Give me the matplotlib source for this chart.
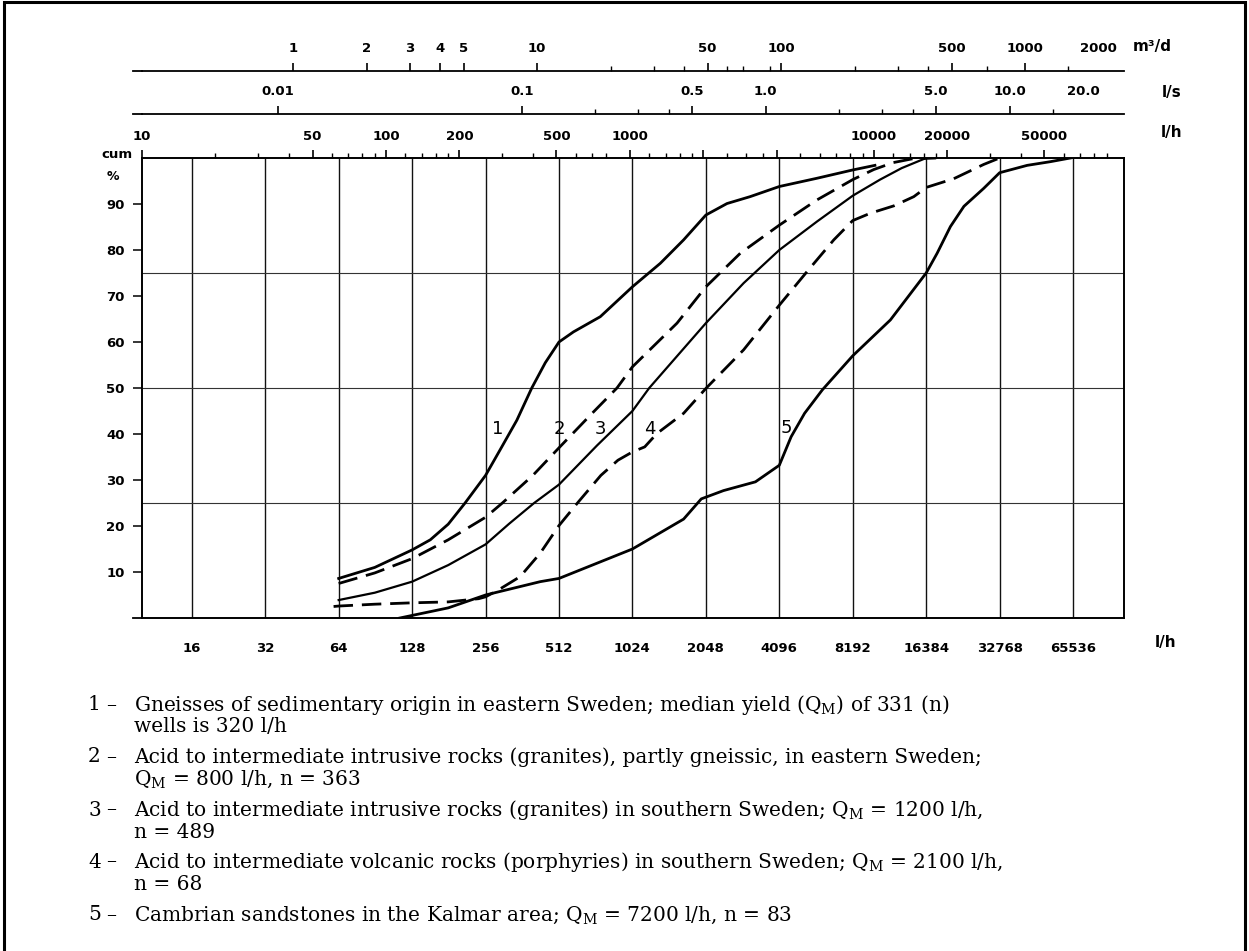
import matplotlib
matplotlib.use("Agg")
import matplotlib.pyplot as plt
from matplotlib.patches import Rectangle
from matplotlib.lines import Line2D
from matplotlib.ticker import NullFormatter, NullLocator

# ---------------- data ----------------
grid_lh = [16, 32, 64, 128, 256, 512, 1024, 2048, 4096, 8192, 16384, 32768, 65536]
grid_labels = ["16", "32", "64", "128", "256", "512", "1024", "2048", "4096",
               "8192", "16384", "32768", "65536"]
pct_ticks = [10, 20, 30, 40, 50, 60, 70, 80, 90]
pct_grid = [25, 50, 75]

# top scale: l/h
lh_major = [10, 50, 100, 200, 500, 1000, 10000, 20000, 50000]
lh_major_labels = ["10", "50", "100", "200", "500", "1000", "10000", "20000", "50000"]
lh_long = [2000, 4000]
lh_minor = [20, 30, 40, 60, 70, 80, 90, 120, 140, 160, 180, 300, 400, 600, 700, 800,
            1200, 1400, 1600, 1800, 2500, 3000, 3500, 5000, 6000, 7000, 8000, 9000,
            12000, 14000, 16000, 18000, 30000, 40000, 60000, 70000, 80000, 90000]

# top scale: l/s
ls_major = [0.01, 0.1, 0.5, 1.0, 5.0, 10.0, 20.0]
ls_labels = ["0.01", "0.1", "0.5", "1.0", "5.0", "10.0", "20.0"]
ls_minor = [0.2, 0.3, 0.4, 2, 3, 4, 15]

# top scale: m3/d
m3d_major = [1, 2, 3, 4, 5, 10, 50, 100, 500, 1000, 2000]
m3d_labels = ["1", "2", "3", "4", "5", "10", "50", "100", "500", "1000", "2000"]
m3d_minor = [20, 30, 40, 60, 70, 90, 200, 300, 400, 700, 1500]

# curves (yield in l/h, cumulative %)
x1 = [64, 90, 128, 152, 180, 211, 256, 294, 344, 396, 450, 512, 587, 756, 1024,
      1332, 1660, 2048, 2500, 3110, 4096, 5850, 8192, 10100]
y1 = [8.6, 11.0, 14.8, 17.0, 20.4, 25.0, 31.0, 36.6, 43.0, 50.0, 55.5, 60.0, 62.2,
      65.5, 72.0, 77.1, 82.2, 87.6, 90.1, 91.6, 93.8, 95.6, 97.4, 98.4]

x2 = [64, 90, 128, 180, 256, 300, 400, 512, 700, 885, 1024, 1560, 2048, 2835, 4096,
      5850, 8192, 10000, 12000, 14300, 18000]
y2 = [7.5, 9.8, 12.9, 17.0, 21.9, 25.0, 31.0, 37.0, 44.5, 50.0, 54.6, 64.1, 72.0,
      79.3, 85.4, 90.9, 95.3, 97.5, 99.0, 99.8, 100.0]

x3 = [64, 90, 128, 180, 256, 320, 405, 512, 733, 1024, 1200, 2048, 2925, 4096,
      5850, 8192, 10600, 13000, 16384]
y3 = [3.9, 5.5, 7.9, 11.5, 16.0, 20.5, 25.0, 29.0, 37.5, 45.0, 50.0, 64.1, 72.8,
      80.0, 86.2, 91.8, 95.3, 97.8, 100.0]

x4 = [61, 64, 90, 128, 180, 240, 256, 289, 355, 429, 512, 614, 760, 893, 1024, 1150,
      1290, 1660, 2048, 2925, 4096, 5320, 6850, 8192, 9680, 12080, 14580, 16384,
      21260, 28200, 32768]
y4 = [2.5, 2.6, 3.0, 3.3, 3.5, 4.2, 4.6, 6.1, 9.0, 14.1, 20.1, 25.2, 31.0, 34.3,
      36.1, 37.2, 40.1, 44.5, 49.9, 58.3, 68.0, 75.3, 82.2, 86.4, 88.0, 89.6, 91.6,
      93.6, 95.5, 98.6, 100.0]

x5 = [114, 180, 256, 429, 512, 1024, 1660, 1962, 2420, 3270, 4096, 4580, 5200, 6150,
      8192, 11690, 16384, 18170, 20600, 23400, 28200, 32768, 42500, 52900, 63900]
y5 = [0.0, 2.2, 5.0, 7.9, 8.6, 15.0, 21.5, 25.9, 27.7, 29.6, 33.2, 39.4, 44.5, 49.6,
      57.0, 64.8, 75.0, 79.3, 85.1, 89.5, 93.4, 96.8, 98.4, 99.2, 100.0]

curve_names = ["1", "2", "3", "4", "5"]
curve_label_x = [286, 512, 756, 1212, 4370]
curve_label_y = [41, 41, 41, 41, 41.3]

legend_numbers = ["1", "2", "3", "4", "5"]
legend_lines = [
    ["Gneisses of sedimentary origin in eastern Sweden; median yield (Q$_\\mathrm{M}$) of 331 (n)",
     "wells is 320 l/h"],
    ["Acid to intermediate intrusive rocks (granites), partly gneissic, in eastern Sweden;",
     "Q$_\\mathrm{M}$ = 800 l/h, n = 363"],
    ["Acid to intermediate intrusive rocks (granites) in southern Sweden; Q$_\\mathrm{M}$ = 1200 l/h,",
     "n = 489"],
    ["Acid to intermediate volcanic rocks (porphyries) in southern Sweden; Q$_\\mathrm{M}$ = 2100 l/h,",
     "n = 68"],
    ["Cambrian sandstones in the Kalmar area; Q$_\\mathrm{M}$ = 7200 l/h, n = 83"],
]

# ---------------- figure ----------------
W, H = 1249, 951
plt.rcParams["font.family"] = ["DejaVu Sans"]
plt.rcParams["mathtext.fontset"] = "dejavuserif"
fig = plt.figure(figsize=(W / 100, H / 100), dpi=100)
fig.patch.set_facecolor("white")


def fx(px):
    return px / W


def fy(py):
    return 1 - py / H


L, R, T, B = 142, 1124, 158, 618
XLIM = (10, 1.06e5)
TICK_FS = 9.5
TICK_W = "bold"

ax = fig.add_axes([fx(L), fy(B), fx(R - L), (B - T) / H])
ax.set_xscale("log")
ax.set_xlim(*XLIM)
ax.set_ylim(0, 100)
for s in ax.spines.values():
    s.set_linewidth(1.4)

ax.set_xticks(grid_lh)
ax.set_xticklabels(grid_labels, fontweight=TICK_W)
ax.xaxis.set_minor_locator(NullLocator())
ax.tick_params(axis="x", which="major", length=0, pad=17, labelsize=TICK_FS)
ax.set_yticks(pct_ticks)
ax.set_yticklabels([str(v) for v in pct_ticks], fontweight=TICK_W)
ax.tick_params(axis="y", which="major", direction="out", length=6.5, width=1.1,
               pad=6, labelsize=TICK_FS)

ax.vlines(grid_lh, 0, 100, colors="#111111", lw=1.0, zorder=1)
ax.hlines(pct_grid, XLIM[0], XLIM[1], colors="#333333", lw=0.8, zorder=1)

LW = 2.0
dash = (0, (7, 3.2))
ax.plot(x1, y1, color="black", lw=LW, zorder=3)
ax.plot(x2, y2, color="black", lw=LW, ls=dash, zorder=3)
ax.plot(x3, y3, color="black", lw=LW * 0.8, zorder=3)
ax.plot(x4, y4, color="black", lw=LW, ls=dash, zorder=3)
ax.plot(x5, y5, color="black", lw=LW, zorder=3)

for name, lx, ly in zip(curve_names, curve_label_x, curve_label_y):
    ax.text(lx, ly, name, fontsize=13, ha="center", va="center", color="black")

# top l/h axis
axt = ax.twiny()
axt.set_xscale("log")
axt.set_xlim(*XLIM)
axt.set_xticks(lh_major + lh_long)
axt.set_xticklabels(lh_major_labels + [""] * len(lh_long), fontweight=TICK_W)
axt.set_xticks(lh_minor, minor=True)
axt.xaxis.set_minor_formatter(NullFormatter())
axt.tick_params(axis="x", which="major", direction="out", length=6, width=1.2,
                pad=5, labelsize=TICK_FS)
axt.tick_params(axis="x", which="minor", direction="out", length=3.5, width=1.0)
for s in axt.spines.values():
    s.set_visible(False)


def scale_axis(ypix, factor, major, labels, minor, hide_last_tick=True):
    a = fig.add_axes([fx(L), fy(ypix), fx(R - L), 1e-4])
    a.patch.set_visible(False)
    a.set_xscale("log")
    a.set_xlim(*XLIM)
    for s in ["left", "right", "bottom"]:
        a.spines[s].set_visible(False)
    a.spines["top"].set_linewidth(1.3)
    a.set_yticks([])
    a.xaxis.set_ticks_position("top")
    a.tick_params(axis="x", which="major", direction="out", length=5.5, width=1.2,
                  pad=6, labelsize=TICK_FS, top=True, bottom=False,
                  labeltop=True, labelbottom=False)
    a.tick_params(axis="x", which="minor", direction="out", length=3.5, width=1.0,
                  top=True, bottom=False)
    a.set_xticks([v * factor for v in major])
    a.set_xticklabels(labels, fontweight=TICK_W)
    a.set_xticks([v * factor for v in minor], minor=True)
    a.xaxis.set_minor_formatter(NullFormatter())
    if hide_last_tick:
        a.xaxis.get_major_ticks()[-1].tick2line.set_visible(False)
    return a


scale_axis(71, 1000.0 / 24.0, m3d_major, m3d_labels, m3d_minor)
scale_axis(114, 3600.0, ls_major, ls_labels, ls_minor)

# short extensions of the scale lines to the left, as in the drawing
for yy in [71, 114, 618]:
    fig.add_artist(Line2D([fx(133), fx(L)], [fy(yy), fy(yy)], color="black",
                          lw=1.3, transform=fig.transFigure))

# unit labels
fig.text(fx(1152), fy(47), "m³/d", fontsize=11, fontweight=TICK_W, ha="center", va="center")
fig.text(fx(1172), fy(92), "l/s", fontsize=11, fontweight=TICK_W, ha="center", va="center")
fig.text(fx(1172), fy(132), "l/h", fontsize=11, fontweight=TICK_W, ha="center", va="center")
fig.text(fx(1166), fy(642), "l/h", fontsize=11, fontweight=TICK_W, ha="center", va="center")
fig.text(fx(117), fy(154), "cum", fontsize=9.5, fontweight=TICK_W, ha="center", va="center")
fig.text(fx(113), fy(176), "%", fontsize=9, fontweight=TICK_W, ha="center", va="center")

# legend text
LEG_FS = 14.5
item_y = [705, 757, 810, 862, 915]
for num, lines, yy in zip(legend_numbers, legend_lines, item_y):
    fig.text(fx(88), fy(yy), num, fontsize=LEG_FS, family="DejaVu Serif",
             ha="left", va="center")
    fig.text(fx(106), fy(yy), "–", fontsize=LEG_FS, family="DejaVu Serif",
             ha="left", va="center")
    for k, line in enumerate(lines):
        fig.text(fx(134), fy(yy + 22 * k), line, fontsize=LEG_FS,
                 family="DejaVu Serif", ha="left", va="center")

# outer frame
fig.patches.append(Rectangle((0.003, -0.01), 0.994, 1.008, transform=fig.transFigure,
                             fill=False, lw=2.2, edgecolor="black"))

fig.savefig("out.png", dpi=100, facecolor="white")
